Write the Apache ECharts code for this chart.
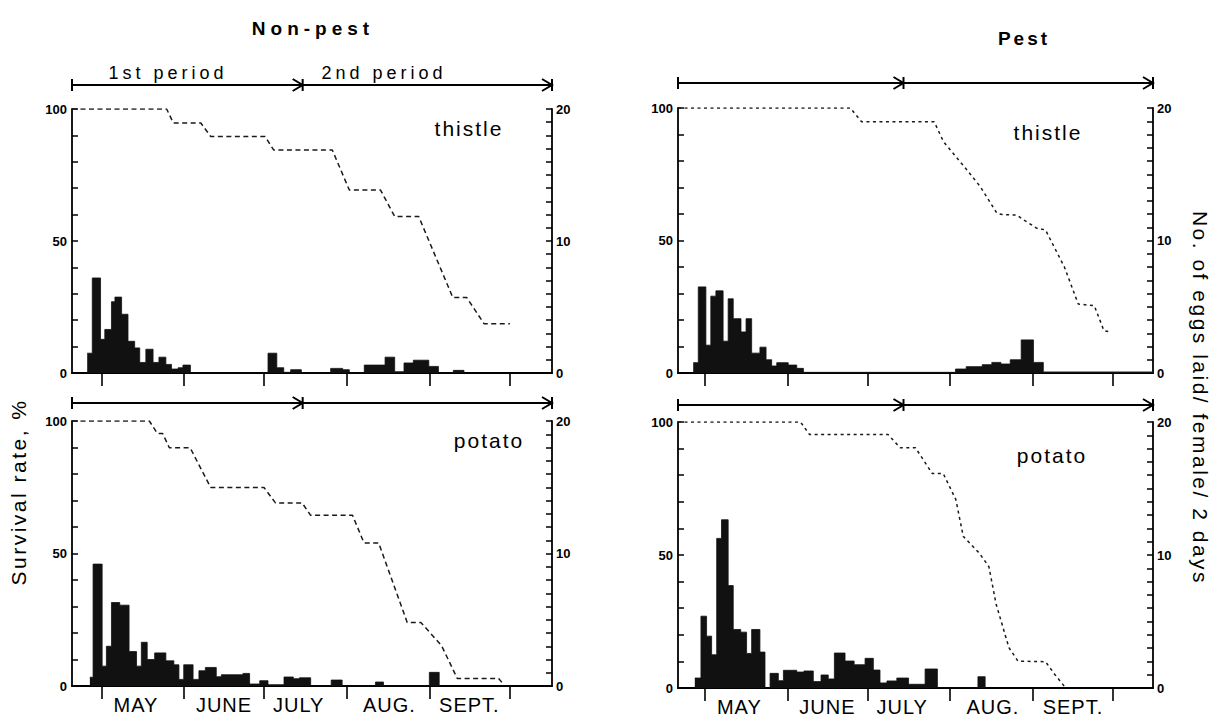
<!DOCTYPE html>
<html><head><meta charset="utf-8">
<style>
html,body{margin:0;padding:0;background:#fff;}
#c{width:1215px;height:717px;}
#c text[style*="lsa"]{letter-spacing:5px}
#c text[style*="lsb"]{letter-spacing:4px}
#c text[style*="lsc"]{letter-spacing:2.5px}
#c text[style*="lsd"]{letter-spacing:1px}
#c text[style*="lse"]{letter-spacing:3px}
#c text[style*="lsf"]{letter-spacing:2px}
</style>
<script src="https://cdn.jsdelivr.net/npm/echarts@6/dist/echarts.min.js"></script>
</head><body><div id="c"></div>
<script>
// ---- axis / category data (x = days counted from May 1) ----
const months = ['MAY', 'JUNE', 'JULY', 'AUG.', 'SEPT.'];
const monthStartDays = [0, 31, 61, 92, 123, 153];
const monthLabelDays = [13, 46, 74, 108, 138];
const leftTicks = [0, 50, 100];
const rightTicks = [0, 10, 20];
const periodSplitNonPest = 75.5;
const periodSplitPest = 74.5;
const panelNames = ['thistle', 'potato', 'thistle', 'potato'];

// ---- survival rate, % : [day, value] ----
const survNonPestThistle = [[-11,100],[24.5,100],[27,94.7],[37.3,94.7],[41,89.6],[61.4,89.6],[64.6,84.5],[86.6,84.5],[93,69.3],[104.7,69.3],[110,59.3],[119,59.3],[131.8,28.6],[137,28.6],[143.5,18.7],[153.2,18.7]];
const survNonPestPotato = [[-11,100],[18,100],[21,95.3],[23,95.3],[25.5,89.9],[33.3,89.9],[41,74.9],[61,74.9],[65.3,69.1],[75.3,69.1],[78.5,64.4],[94.2,64.4],[98.5,54],[104,54],[114.7,24],[119.8,24],[127.6,15.2],[133.5,2.8],[149,2.8],[150.5,1]];
const survPestThistle = [[-10,100],[54.6,100],[58.8,94.8],[86,94.8],[89.5,87.3],[98.3,76.6],[103.3,70.3],[109.5,60.3],[111.5,59.8],[117,59.6],[120,57.5],[124.5,54.6],[127.7,54],[134.8,40],[140,26],[146,25.4],[149.6,16],[152.4,15.4]];
const survPestPotato = [[-10,100],[35.9,100],[39.3,95.3],[68.7,95.3],[73.3,90.3],[79,90.3],[85.3,80.6],[89.4,80.6],[94.1,70.9],[96.9,57],[103,50.6],[106.5,45.6],[109.2,31.6],[114,15.2],[117.4,10.1],[127.7,9.9],[131.2,5.1],[135.3,0]];

// ---- eggs laid / female / 2 days : [bar start day, value] ----
const eggsNonPestThistle = [[-5.3,1.5],[-3.4,7.2],[-0.3,2.55],[1.3,3.3],[3.8,5.4],[5.1,5.75],[7.6,4.45],[10,2.4],[12.5,1.9],[14.4,0.8],[16.7,1.8],[19.4,0.8],[21.6,1.2],[24.2,0.65],[26.3,0.3],[28.8,0.4],[30.6,0.6],[33.4,0],[62.5,1.5],[65.8,0.4],[68.4,0.05],[71,0.25],[75,0],[86,0.35],[90.5,0.25],[93,0],[98.6,0.6],[106.4,1.2],[110,0.1],[113.5,0.76],[117,0.97],[122.8,0.5],[126.4,0],[132,0.2],[136,0]];
const eggsNonPestPotato = [[-4.3,0.66],[-3.1,9.2],[0.3,1.5],[1.9,3.0],[3.8,6.3],[6.9,6.1],[10.4,2.6],[13.2,1.5],[15,3.3],[17.2,2.0],[20,2.5],[24.2,1.9],[27.2,1.6],[29.1,0.5],[30.9,1.6],[34.4,0.5],[36.6,1.15],[39,1.4],[43.1,0.7],[45,0.85],[53.1,0.95],[55.6,0.15],[59.4,0.4],[62.5,0.1],[68.5,0.68],[72,0.55],[74.3,0.62],[78.5,0],[86.2,0.45],[90.3,0],[102.8,0.3],[105.8,0],[123,1.03],[126.7,0]];
const eggsPestThistle = [[-4.3,0.78],[-2.4,6.5],[0.45,2.1],[2.3,5.8],[4.2,6.2],[6.9,2.4],[8.8,5.6],[10.7,4.1],[13.6,3.1],[15.5,4.1],[17.6,1.5],[20.7,1.95],[23,1.0],[25.1,0.53],[27,0.78],[31.3,0.6],[34.5,0.35],[37,0.05],[94,0.3],[98,0.48],[104,0.63],[107.6,0.8],[111,0.68],[114.5,1.0],[118.6,2.5],[123.2,0.8],[126.9,0.08],[168,0]];
const eggsPestPotato = [[-3.7,0.75],[-1.4,5.4],[0.7,3.9],[2.6,2.5],[4.5,11.25],[6.3,12.65],[8.8,7.7],[10.7,4.4],[13.5,4.2],[15.7,2.6],[17.6,4.4],[20.7,2.7],[22.6,0],[24.5,1.1],[27.6,0.55],[29.5,1.33],[34.5,1.2],[37.2,1.28],[40.7,0.48],[43.6,0.98],[46.3,0.68],[48.6,2.63],[52.6,2.03],[56,1.75],[60.1,2.23],[63.2,1.35],[65.7,0.38],[68.3,0.53],[72,0.75],[76.4,0.28],[82.6,1.43],[87.2,0],[102.4,0.85],[105.1,0]];

const survAll = [survNonPestThistle, survNonPestPotato, survPestThistle, survPestPotato];
const eggsAll = [eggsNonPestThistle, eggsNonPestPotato, eggsPestThistle, eggsPestPotato];
const splits = [periodSplitNonPest, periodSplitNonPest, periodSplitPest, periodSplitPest];

// ---- layout ----
const grids = [
  {left: 72, top: 109, width: 480, height: 264},
  {left: 72, top: 421, width: 480, height: 265},
  {left: 678, top: 108, width: 475, height: 265},
  {left: 678, top: 422, width: 475, height: 266}
];
const xRange = [[-11, 169], [-11, 169], [-10, 168], [-10, 168]];
const showMonthLabels = [false, true, false, true];
const dashes = [[5, 3.5], [5, 3.5], [3, 3.5], [3, 3.5]];
const FONT = 'Liberation Sans';

const xAxes = grids.map((g, i) => ({
  type: 'value', gridIndex: i, min: xRange[i][0], max: xRange[i][1],
  axisLine: {show: true, onZero: false, lineStyle: {color: '#000', width: 2.2}},
  axisTick: {show: true, customValues: monthStartDays, length: 13, inside: false, lineStyle: {color: '#000', width: 1.6}},
  axisLabel: {show: showMonthLabels[i], customValues: monthLabelDays, margin: 9,
    formatter: v => months[monthLabelDays.indexOf(v)] || '',
    color: '#000', fontSize: 20, fontFamily: FONT + ', lsd'},
  splitLine: {show: false}
}));
const yAxes = [];
grids.forEach((g, i) => {
  yAxes.push({
    type: 'value', gridIndex: i, position: 'left', min: 0, max: 100, interval: 10,
    axisLine: {show: true, onZero: false, lineStyle: {color: '#000', width: 1.8}},
    axisTick: {show: true, inside: true, length: 6, lineStyle: {color: '#000', width: 1.5}},
    axisLabel: {customValues: leftTicks, margin: 5, color: '#000', fontSize: 13, fontWeight: 'bold', fontFamily: FONT},
    splitLine: {show: false}
  });
  yAxes.push({
    type: 'value', gridIndex: i, position: 'right', min: 0, max: 20, interval: 1,
    axisLine: {show: true, onZero: false, lineStyle: {color: '#000', width: 1.8}},
    axisTick: {show: true, inside: true, length: 6, lineStyle: {color: '#000', width: 1.5}},
    axisLabel: {customValues: rightTicks, margin: 4, color: '#000', fontSize: 13, fontWeight: 'bold', fontFamily: FONT},
    splitLine: {show: false}
  });
});

const series = [];
grids.forEach((g, i) => {
  series.push({
    type: 'line', xAxisIndex: i, yAxisIndex: 2 * i + 1, data: eggsAll[i], step: 'end',
    symbol: 'none', silent: true, z: 2,
    lineStyle: {color: '#111', width: 0.8},
    areaStyle: {color: '#111', opacity: 1}
  });
  series.push({
    type: 'line', xAxisIndex: i, yAxisIndex: 2 * i, data: survAll[i],
    symbol: 'none', silent: true, z: 3,
    lineStyle: {color: '#1a1a1a', width: 1.5, type: dashes[i]}
  });
});

const chart = echarts.init(document.getElementById('c'), null, {renderer: 'svg'});
chart.setOption({
  animation: false,
  backgroundColor: '#fff',
  grid: grids,
  xAxis: xAxes,
  yAxis: yAxes,
  series: series
});

// ---- annotations ----
const gfx = [];
function txt(text, x, y, size, fam, weight, rot) {
  gfx.push({type: 'text', x: x, y: y, rotation: rot || 0, silent: true,
    style: {text: text, fontSize: size, fontFamily: fam, fontWeight: weight || 'normal',
      fill: '#000', textAlign: 'center', textVerticalAlign: 'middle'}});
}
txt('Non-pest', 313, 28, 19, FONT + ', lsa', 'bold');
txt('Pest', 1024, 38, 19, FONT + ', lse', 'bold');
txt('1st period', 168, 73, 18, FONT + ', lsb');
txt('2nd period', 384, 73, 18, FONT + ', lsb');
txt('Survival rate, %', 18, 492, 21, FONT + ', lsc', 'normal', Math.PI / 2);
txt('No. of eggs laid/ female/ 2 days', 1200, 398, 21, FONT + ', lsc', 'normal', -Math.PI / 2);
const namePos = [[469, 128], [489, 440], [1048, 132], [1052, 455]];
panelNames.forEach((n, i) => txt(n, namePos[i][0], namePos[i][1], 21, FONT + ', lsf'));

const arrowOffset = [24, 18, 25, 17];
grids.forEach((g, i) => {
  const xs = [xRange[i][0], splits[i], xRange[i][1]].map(d => chart.convertToPixel({xAxisIndex: i}, d));
  const y = g.top - arrowOffset[i];
  const st = {stroke: '#000', lineWidth: 2, fill: 'none'};
  gfx.push({type: 'line', silent: true, shape: {x1: xs[0], y1: y, x2: xs[2], y2: y}, style: st});
  gfx.push({type: 'line', silent: true, shape: {x1: xs[0], y1: y - 6, x2: xs[0], y2: y + 6}, style: st});
  [xs[1], xs[2]].forEach(ax => {
    gfx.push({type: 'polyline', silent: true, shape: {points: [[ax - 10, y - 6], [ax, y], [ax - 10, y + 6]]}, style: st});
    gfx.push({type: 'line', silent: true, shape: {x1: ax, y1: y - 6, x2: ax, y2: y + 6}, style: st});
  });
});
chart.setOption({graphic: gfx});
</script>
</body></html>
